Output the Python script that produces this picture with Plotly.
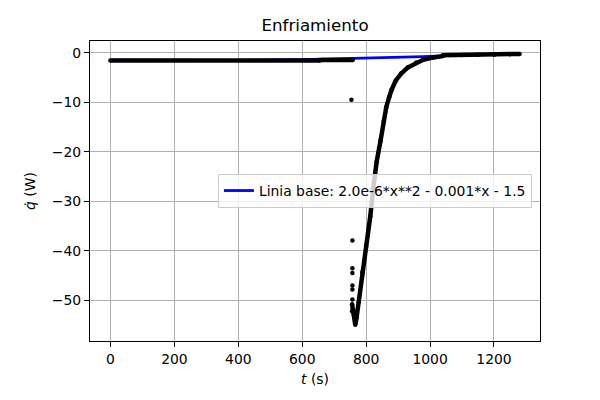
#!/usr/bin/env python3

import plotly.graph_objects as go

# Measured heat flow (black dots), dense segments separated by None
t_datos = [0, 655, None,
           655, 758, None,
           756, 760, 766, 770, 777, 788, 800, 813, 822, 833, 845, 855, 863,
           872, 879, 893, 910, 930, 957, 980, 1009, 1040, None,
           1040, 1100, 1150, 1200, 1250, 1280]
q_datos = [-1.6, -1.6, None,
           -1.5, -1.5, None,
           -50.8, -52.5, -54.9, -53.5, -50.3, -44.3, -39.0, -33.0, -27.5, -22.0, -17.8, -13.8, -11.0,
           -9.0, -7.6, -5.6, -4.2, -3.0, -2.0, -1.4, -1.0, -0.7, None,
           -0.55, -0.5, -0.45, -0.4, -0.3, -0.25]

# Sparse points during the sudden drop
t_sueltos = [754, 757, 757, 757, 757, 757, 757, 756]
q_sueltos = [-9.5, -37.9, -43.5, -44.5, -47.0, -47.8, -49.8, -52.2]

# Base line (blue)
t_base = [0, 200, 400, 600, 700, 760, 850, 900, 977, 1050, 1150, 1280]
q_base = [-1.5, -1.6, -1.55, -1.4, -1.28, -1.2, -1.05, -0.95, -0.8, -0.6, -0.38, -0.2]

x_ticks = [0, 200, 400, 600, 800, 1000, 1200]
y_ticks = [0, -10, -20, -30, -40, -50]

font_main = "DejaVu Sans"

fig = go.Figure()

# Base line drawn first so the data covers it
fig.add_trace(go.Scatter(x=t_base, y=q_base,
                         mode='lines',
                         name='Linia base: 2.0e-6*x**2 - 0.001*x - 1.5',
                         line=dict(color='#0000ff', width=2.8)))

fig.add_trace(go.Scatter(x=t_datos, y=q_datos,
                         mode='lines+markers',
                         showlegend=False,
                         line=dict(color='black', width=4.5),
                         marker=dict(color='black', size=4.5),
                         connectgaps=False))

fig.add_trace(go.Scatter(x=t_sueltos, y=q_sueltos,
                         mode='markers',
                         showlegend=False,
                         marker=dict(color='black', size=4.5)))

# The page adds an 8px body margin, so margins are shifted to compensate
fig.update_layout(
    width=600,
    height=400,
    margin=dict(l=82, r=68, t=33, b=67),
    paper_bgcolor='white',
    plot_bgcolor='white',
    font=dict(family=font_main, size=13.9, color='black'),
    title=dict(
        text='Enfriamiento',
        x=0.5, xref='paper', xanchor='center',
        y=1 - 17 / 400, yref='container', yanchor='middle',
        font=dict(family=font_main, size=16.7, color='black')
    ),
    showlegend=True,
    legend=dict(
        x=0.982, xanchor='right',
        y=0.5, yanchor='middle',
        bgcolor='rgba(255,255,255,0.8)',
        bordercolor='#cccccc',
        borderwidth=1,
        font=dict(family=font_main, size=13.9, color='black')
    )
)

fig.update_xaxes(
    range=[-64, 1344],
    tickvals=x_ticks,
    ticks='outside', ticklen=5, tickwidth=1.1, tickcolor='black',
    showgrid=True, gridcolor='#b0b0b0', gridwidth=1.1,
    zeroline=False,
    showline=True, linecolor='black', linewidth=1.1, mirror=True,
    title=dict(text='<i>t</i> (s)', standoff=8,
               font=dict(family=font_main, size=13.9, color='black'))
)

fig.update_yaxes(
    range=[-58.2, 2.35],
    tickvals=y_ticks,
    ticks='outside', ticklen=5, tickwidth=1.1, tickcolor='black',
    showgrid=True, gridcolor='#b0b0b0', gridwidth=1.1,
    zeroline=False,
    showline=True, linecolor='black', linewidth=1.1, mirror=True,
    title=dict(text='<i>q̇</i> (W)', standoff=12,
               font=dict(family=font_main, size=13.9, color='black'))
)

fig.write_html("out.html")
